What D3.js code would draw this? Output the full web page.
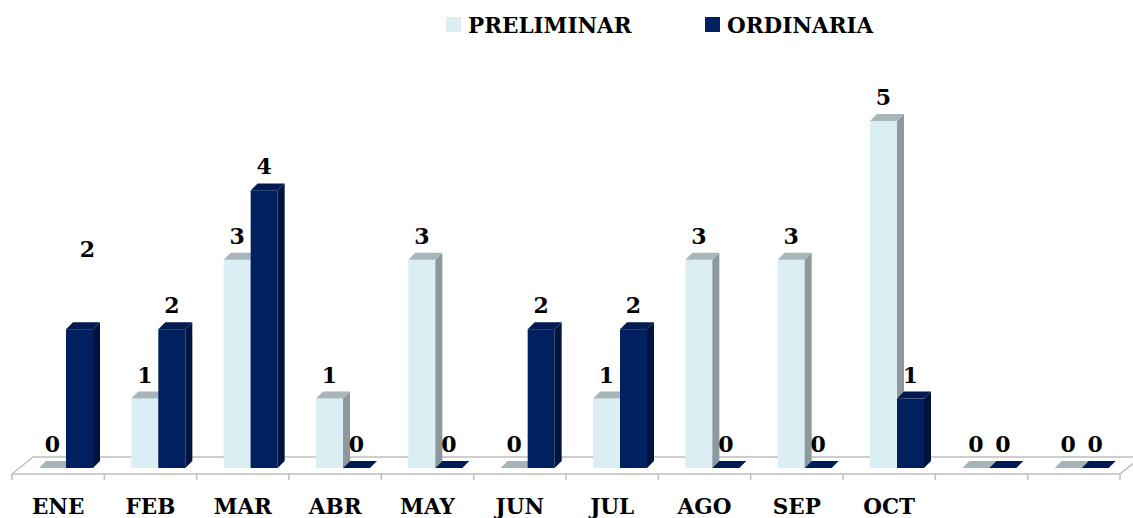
<!DOCTYPE html>
<html>
<head>
<meta charset="utf-8">
<script src="https://cdn.jsdelivr.net/npm/d3@7/dist/d3.min.js"></script>
<style>
    html, body { margin: 0; padding: 0; background: #fff; }
    svg { display: block; }
    text { font-family: "DejaVu Serif", serif; font-weight: bold; fill: #000; }
</style>
</head>
<body>
<div id="chart"></div>
<script>
// chart data
const months = ["ENE", "FEB", "MAR", "ABR", "MAY", "JUN", "JUL", "AGO", "SEP", "OCT", "", ""];
const seriesNames = ["PRELIMINAR", "ORDINARIA"];
const preliminar = [0, 1, 3, 1, 3, 0, 1, 3, 3, 5, 0, 0];
const ordinaria = [2, 2, 4, 0, 0, 2, 2, 0, 0, 1, 0, 0];

const width = 1133,
    height = 518,
    base = 468,
    depth = { x: 7, y: -7 };

// face colours per series: front, top, side
const faces = [
    { front: "#DAEEF3", top: "#A7B6BA", side: "#8D999C" },
    { front: "#002060", top: "#001A52", side: "#00143F" }
];

const svg = d3.select("#chart").append("svg")
    .attr("width", width)
    .attr("height", height);

const x = d3.scaleBand()
    .domain(d3.range(months.length))
    .range([12, 1120])
    .paddingInner(0)
    .paddingOuter(0);

const xInner = d3.scaleBand()
    .domain([0, 1])
    .range([27, 81]);

const y = d3.scaleLinear()
    .domain([0, 5])
    .range([base, 121]);

// floor
const floor = svg.append("g").attr("class", "floor");
const fx0 = x.range()[0], fx1 = x.range()[1];
floor.append("path")
    .attr("d", `M ${fx0} 474 L ${fx0 + 21} 457 L ${fx1 + 21} 457 L ${fx1} 474 Z`)
    .attr("fill", "#fff")
    .attr("stroke", "#BFBFBF")
    .attr("stroke-width", 1.5);

floor.selectAll("line.tick")
    .data(d3.range(months.length + 1))
    .enter()
    .append("line")
    .attr("class", "tick")
    .attr("x1", i => fx0 + i * x.step())
    .attr("x2", i => fx0 + i * x.step())
    .attr("y1", 474)
    .attr("y2", 480)
    .attr("stroke", "#BFBFBF")
    .attr("stroke-width", 1.5);

// x labels
svg.append("g")
    .selectAll("text")
    .data(months)
    .enter()
    .append("text")
    .attr("x", (d, i) => x(i) + x.bandwidth() / 2)
    .attr("y", 514)
    .attr("text-anchor", "middle")
    .style("font-size", "21.5px")
    .text(d => d);

// bars
const bars = [];
[preliminar, ordinaria].forEach((vals, s) => {
    vals.forEach((v, i) => bars.push({ s, i, v }));
});

const barG = svg.append("g").attr("class", "bars");
const bw = xInner.bandwidth();

bars.forEach(b => {
    const bx = x(b.i) + xInner(b.s),
        by = y(b.v),
        g = barG.append("g"),
        c = faces[b.s];

    if (b.v > 0) {
        g.append("rect")
            .attr("x", bx)
            .attr("y", by)
            .attr("width", bw)
            .attr("height", base - by)
            .attr("fill", c.front);

        g.append("path")
            .attr("d", `M ${bx + bw} ${by} L ${bx + bw + depth.x} ${by + depth.y} L ${bx + bw + depth.x} ${base + depth.y} L ${bx + bw} ${base} Z`)
            .attr("fill", c.side);
    }

    g.append("path")
        .attr("d", `M ${bx} ${by} L ${bx + depth.x} ${by + depth.y} L ${bx + bw + depth.x} ${by + depth.y} L ${bx + bw} ${by} Z`)
        .attr("fill", b.v > 0 ? c.top : (b.s === 0 ? "#A7B4B7" : "#001A55"));
});

// value labels (ENE ordinaria label sits higher in the original)
svg.append("g")
    .selectAll("text")
    .data(bars)
    .enter()
    .append("text")
    .attr("x", d => x(d.i) + xInner(d.s) + bw / 2 + (d.i === 0 && d.s === 1 ? 8 : 0))
    .attr("y", d => y(d.v) - 16 - (d.i === 0 && d.s === 1 ? 56 : 0))
    .attr("text-anchor", "middle")
    .style("font-size", "22px")
    .text(d => d.v);

// legend
const legendX = [446, 705];
const legend = svg.append("g")
    .selectAll("g")
    .data(seriesNames)
    .enter()
    .append("g")
    .attr("transform", (d, i) => `translate(${legendX[i]}, 17)`);

legend.append("rect")
    .attr("width", 15)
    .attr("height", 15)
    .attr("fill", (d, i) => faces[i].front);

legend.append("text")
    .attr("x", 22)
    .attr("y", 16)
    .style("font-size", "21.5px")
    .text(d => d);
</script>
</body>
</html>
